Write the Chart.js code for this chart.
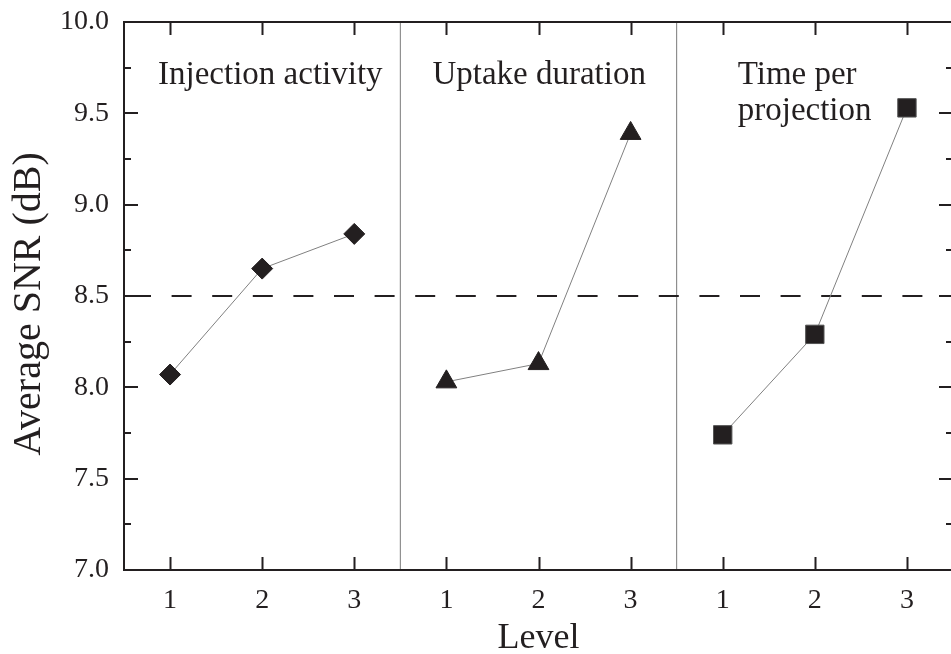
<!DOCTYPE html>
<html>
<head>
<meta charset="utf-8">
<script src="https://cdn.jsdelivr.net/npm/chart.js@4.4.1/dist/chart.umd.min.js"></script>
<style>
  html, body { margin: 0; padding: 0; background: #ffffff; overflow: hidden; }
  #wrap { width: 967px; height: 654px; }
</style>
</head>
<body>
<div id="wrap"><canvas id="c" width="967" height="654"></canvas></div>
<script>
// ---- data ----
const factors = ['Injection activity', 'Uptake duration', 'Time per projection'];
const factorLabelLines = [['Injection activity'], ['Uptake duration'], ['Time per', 'projection']];
const levels = [1, 2, 3];
const tickLabels = ['1', '2', '3', '1', '2', '3', '1', '2', '3'];
const injectionSNR = [8.07, 8.65, 8.84];
const uptakeSNR = [8.03, 8.13, 9.39];
const timeSNR = [7.74, 8.29, 9.53];
const meanSNR = 8.5;
const yTicks = [7.0, 7.5, 8.0, 8.5, 9.0, 9.5, 10.0];
const yTitle = 'Average SNR (dB)';
const xTitle = 'Level';

const INK = '#231f20';
const SERIF = '"Liberation Serif", "Times New Roman", serif';

function pos(panel, level) { return panel * levels.length + (level - 1); }
function seriesPoints(panel, vals) { return vals.map((v, i) => ({ x: pos(panel, levels[i]), y: v })); }

const nPos = factors.length * levels.length;
const dividers = [];
for (let p = 1; p < factors.length; p++) dividers.push(p * levels.length - 0.5);

const datasets = [
  {
    data: seriesPoints(0, injectionSNR), pointStyle: 'rectRot', pointRadius: 10.5,
    borderColor: '#808080', borderWidth: 1, backgroundColor: INK,
    pointBackgroundColor: INK, pointBorderColor: INK, pointBorderWidth: 1
  },
  {
    data: seriesPoints(1, uptakeSNR), pointStyle: 'triangle', pointRadius: 12,
    borderColor: '#808080', borderWidth: 1, backgroundColor: INK,
    pointBackgroundColor: INK, pointBorderColor: INK, pointBorderWidth: 1
  },
  {
    data: seriesPoints(2, timeSNR), pointStyle: 'rect', pointRadius: 13,
    borderColor: '#808080', borderWidth: 1, backgroundColor: INK,
    pointBackgroundColor: INK, pointBorderColor: '#555555', pointBorderWidth: 1
  },
  {
    data: [{ x: -0.5, y: meanSNR }, { x: nPos - 0.5, y: meanSNR }],
    borderColor: INK, borderWidth: 2, borderDash: [20, 20.6], borderDashOffset: 33.6,
    pointRadius: 0
  }
];
dividers.forEach(d => datasets.push({
  data: [{ x: d, y: yTicks[0] }, { x: d, y: yTicks[yTicks.length - 1] }],
  borderColor: '#7a7a7a', borderWidth: 1, pointRadius: 0
}));

const labelOffsets = [-12, -14, 15];

const framePlugin = {
  id: 'frame',
  afterDraw(chart) {
    const ctx = chart.ctx, a = chart.chartArea;
    const xs = chart.scales.x, ys = chart.scales.y;
    ctx.save();
    ctx.strokeStyle = INK;
    ctx.lineWidth = 2;
    ctx.strokeRect(a.left, a.top, a.right - a.left, a.bottom - a.top);
    ctx.beginPath();
    for (let i = 0; i < nPos; i++) {
      const px = Math.round(xs.getPixelForValue(i)) + 0.5;
      ctx.moveTo(px, a.bottom); ctx.lineTo(px, a.bottom - 13);
      ctx.moveTo(px, a.top); ctx.lineTo(px, a.top + 13);
    }
    for (let k = 0; k < yTicks.length; k++) {
      const py = Math.round(ys.getPixelForValue(yTicks[k]));
      ctx.moveTo(a.left, py); ctx.lineTo(a.left + 14, py);
      ctx.moveTo(a.right, py); ctx.lineTo(a.right - 14, py);
      if (k < yTicks.length - 1) {
        const pm = Math.round(ys.getPixelForValue((yTicks[k] + yTicks[k + 1]) / 2));
        ctx.moveTo(a.left, pm); ctx.lineTo(a.left + 7, pm);
        ctx.moveTo(a.right, pm); ctx.lineTo(a.right - 7, pm);
      }
    }
    ctx.stroke();
    ctx.fillStyle = INK;
    // factor labels
    ctx.font = '33px ' + SERIF;
    ctx.textAlign = 'left';
    ctx.textBaseline = 'alphabetic';
    factorLabelLines.forEach((lines, p) => {
      const lx = xs.getPixelForValue(pos(p, 1)) + labelOffsets[p];
      lines.forEach((t, j) => ctx.fillText(t, lx, a.top + 62 + j * 36));
    });
    // y axis title
    ctx.font = '40px ' + SERIF;
    ctx.textAlign = 'center';
    ctx.textBaseline = 'middle';
    ctx.translate(29, (a.top + a.bottom) / 2 + 8);
    ctx.rotate(-Math.PI / 2);
    ctx.fillText(yTitle, 0, 0);
    ctx.restore();
  }
};

new Chart(document.getElementById('c'), {
  type: 'line',
  data: { datasets },
  options: {
    responsive: false,
    animation: false,
    devicePixelRatio: 1,
    layout: { padding: { top: 22, right: 8, left: 0, bottom: 0 } },
    plugins: { legend: { display: false }, tooltip: { enabled: false } },
    elements: { line: { tension: 0 } },
    scales: {
      x: {
        type: 'linear', min: -0.5, max: nPos - 0.5,
        grid: { display: false, drawTicks: true, tickLength: 14 },
        border: { display: false },
        afterBuildTicks(s) { s.ticks = tickLabels.map((_, i) => ({ value: i })); },
        afterFit(s) { s.height = 84; },
        ticks: {
          autoSkip: false, maxRotation: 0, padding: 0, color: INK,
          font: { family: SERIF, size: 28 },
          callback(v) { return tickLabels[v] ?? ''; }
        },
        title: { display: true, text: xTitle, color: INK, font: { family: SERIF, size: 36, lineHeight: 0.84 }, padding: { top: 0, bottom: 0 } }
      },
      y: {
        type: 'linear', min: yTicks[0], max: yTicks[yTicks.length - 1],
        grid: { display: false, drawTicks: true, tickLength: 15 },
        border: { display: false },
        afterBuildTicks(s) { s.ticks = yTicks.map(v => ({ value: v })); },
        afterFit(s) { s.width = 124; },
        ticks: {
          padding: 0, color: INK,
          font: { family: SERIF, size: 28 },
          callback(v) { return Number(v).toFixed(1); }
        },
        title: { display: false }
      }
    }
  },
  plugins: [framePlugin]
});
</script>
</body>
</html>
